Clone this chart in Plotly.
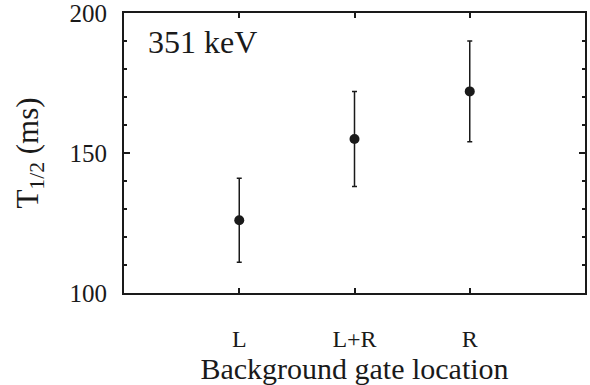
import plotly.graph_objects as go

# Half-life extracted for each background gate choice (351 keV line)
gate_locations = ["L", "L+R", "R"]
half_life_ms = [126, 155, 172]
half_life_err = [15, 17, 18]

y_ticks = [100, 150, 200]

serif = "Liberation Serif, Times New Roman, serif"
ink = "#1a1a1a"

fig = go.Figure(
    go.Scatter(
        x=gate_locations,
        y=half_life_ms,
        mode="markers",
        marker=dict(size=10, color=ink),
        error_y=dict(type="data", array=half_life_err, visible=True,
                     color=ink, thickness=1.5, width=2.5),
        showlegend=False,
    )
)

fig.update_layout(
    width=590,
    height=385,
    margin=dict(l=124, r=5, t=13, b=92),
    paper_bgcolor="white",
    plot_bgcolor="white",
    font=dict(family=serif, size=24, color=ink),
)

fig.update_xaxes(
    type="category",
    range=[-1, 3],
    automargin=False,
    showgrid=False,
    zeroline=False,
    showline=True,
    linecolor=ink,
    linewidth=2,
    mirror="allticks",
    ticks="inside",
    ticklen=5,
    tickwidth=1.5,
    tickcolor=ink,
    ticklabelstandoff=23,
    tickfont=dict(size=24),
    title=dict(text="Background gate location", font=dict(size=30), standoff=5),
)

fig.update_yaxes(
    range=[100, 200],
    tickvals=y_ticks,
    ticktext=[str(v) for v in y_ticks],
    ticklabeloverflow="allow",
    automargin=False,
    showgrid=False,
    zeroline=False,
    showline=True,
    linecolor=ink,
    linewidth=2,
    mirror="allticks",
    ticks="inside",
    ticklen=6,
    tickwidth=1.5,
    tickcolor=ink,
    ticklabelstandoff=10,
    tickfont=dict(size=25),
    minor=dict(dtick=10, ticks="inside", ticklen=3, tickwidth=1.5, tickcolor=ink),
    title=dict(text="T<sub>1/2</sub> (ms)", font=dict(size=31), standoff=22),
)

fig.add_annotation(
    text="351 keV",
    xref="paper", yref="paper",
    x=0.048, y=0.895,
    xanchor="left", yanchor="middle",
    showarrow=False,
    font=dict(family=serif, size=32, color=ink),
)

fig.write_html("out.html")
